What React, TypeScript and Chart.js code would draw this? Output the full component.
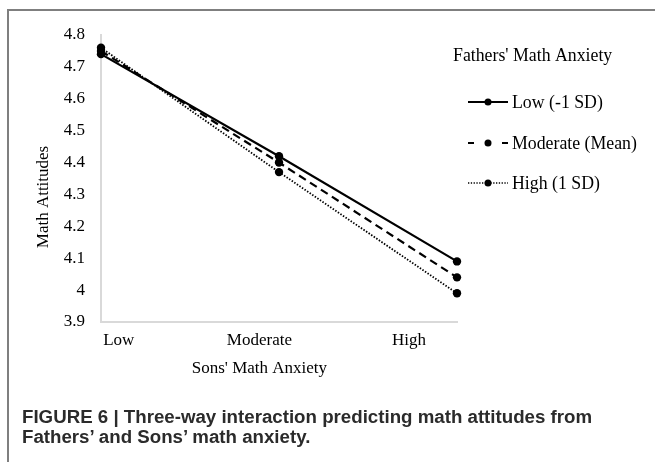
import React, { useEffect, useRef } from "react";
import { Chart, registerables } from "chart.js";

Chart.register(...registerables);

// ---- data ----
const xLabels = ["Low", "Moderate", "High"];
const seriesNames = ["Low (-1 SD)", "Moderate (Mean)", "High (1 SD)"];
const lowSD = [4.74, 4.42, 4.09];
const meanSD = [4.75, 4.40, 4.04];
const highSD = [4.76, 4.37, 3.99];
const yMin = 3.9;
const yMax = 4.8;
const yStep = 0.1;
const xTitle = "Sons' Math Anxiety";
const yTitle = "Math Attitudes";
const legendTitle = "Fathers' Math Anxiety";
const captionLine1 = "FIGURE 6 | Three-way interaction predicting math attitudes from";
const captionLine2 = "Fathers\u2019 and Sons\u2019 math anxiety.";

// layout: where tick labels sit along the x axis (in category units)
const X_LABEL_AT = [0.1, 0.89, 1.73];
const SERIF = '"Liberation Serif", "Times New Roman", serif';
const dashes = [[], [8, 5], [1.5, 1.6]];
const widths = [2.2, 2.2, 1.8];

const toPts = (arr: number[]) => arr.map((v, i) => ({ x: i, y: v }));

const overlay = {
  id: "overlay",
  afterDraw(chart: any) {
    const ctx = chart.ctx as CanvasRenderingContext2D;
    const xs = chart.scales.x;
    const area = chart.chartArea;
    ctx.save();
    ctx.fillStyle = "#000";
    ctx.font = `17px ${SERIF}`;
    ctx.textBaseline = "middle";
    ctx.textAlign = "center";
    // x title
    ctx.fillText(xTitle, xs.getPixelForValue(X_LABEL_AT[1]), area.bottom + 47);
    // y title
    ctx.save();
    ctx.translate(area.left - 57, area.top + 162);
    ctx.rotate(-Math.PI / 2);
    ctx.fillText(yTitle, 0, 0);
    ctx.restore();
    // legend
    ctx.font = `17.8px ${SERIF}`;
    ctx.textAlign = "left";
    ctx.fillText(legendTitle, 453, 56);
    const rows = [102, 143, 183];
    chart.data.datasets.forEach((ds: any, i: number) => {
      const y = rows[i];
      ctx.strokeStyle = "#000";
      ctx.lineWidth = i === 2 ? 1.5 : widths[i];
      if (i === 1) ctx.setLineDash([6, 28]);
      else if (i === 2) ctx.setLineDash([1.3, 1.5]);
      else ctx.setLineDash(dashes[i]);
      ctx.beginPath();
      ctx.moveTo(468, y);
      ctx.lineTo(508, y);
      ctx.stroke();
      ctx.setLineDash([]);
      ctx.beginPath();
      ctx.arc(488, y, 3.5, 0, Math.PI * 2);
      ctx.fillStyle = "#000";
      ctx.fill();
      ctx.fillText(ds.label, 512, y + 1);
    });
    ctx.restore();
  },
};

export default function App() {
  const ref = useRef<HTMLCanvasElement>(null);
  useEffect(() => {
    document.body.style.margin = "0";
    const series = [lowSD, meanSD, highSD];
    const chart = new Chart(ref.current as HTMLCanvasElement, {
      type: "line",
      data: {
        datasets: series.map((s, i) => ({
          label: seriesNames[i],
          data: toPts(s),
          borderColor: "#000",
          backgroundColor: "#000",
          borderWidth: widths[i],
          borderDash: dashes[i],
          pointRadius: 4.2,
          pointBackgroundColor: "#000",
          pointBorderWidth: 0,
          clip: false,
          tension: 0,
        })),
      },
      options: {
        animation: false,
        responsive: false,
        devicePixelRatio: 1,
        layout: { padding: { left: 0, top: 35, right: 198, bottom: 0 } },
        plugins: { legend: { display: false }, tooltip: { enabled: false } },
        scales: {
          x: {
            type: "linear",
            min: 0,
            max: xLabels.length - 1,
            grid: { display: false, drawTicks: false },
            border: { display: true, color: "#d9d9d9", width: 2 },
            afterBuildTicks: (scale: any) => {
              scale.ticks = X_LABEL_AT.map((v) => ({ value: v }));
            },
            afterFit: (scale: any) => {
              scale.height = 140;
            },
            ticks: {
              autoSkip: false,
              maxRotation: 0,
              padding: 8,
              color: "#000",
              font: { family: SERIF, size: 17 },
              callback: (_v: any, i: number) => xLabels[i],
            },
          },
          y: {
            min: yMin,
            max: yMax,
            grid: { display: false, drawTicks: false },
            border: { display: true, color: "#d9d9d9", width: 2 },
            afterFit: (scale: any) => {
              scale.width = 101;
            },
            ticks: {
              stepSize: yStep,
              padding: 16,
              color: "#000",
              font: { family: SERIF, size: 17 },
              callback: (v: any) => String(Math.round(Number(v) * 10) / 10),
            },
          },
        },
      },
      plugins: [overlay],
    });
    return () => chart.destroy();
  }, []);

  return (
    <div style={{ position: "absolute", left: 0, top: 0, width: 655, height: 462, background: "#fff", overflow: "hidden" }}>
      <div
        style={{
          position: "absolute",
          left: 7,
          top: 9,
          width: 660,
          height: 470,
          borderTop: "2px solid #7f7f7f",
          borderLeft: "2px solid #7f7f7f",
        }}
      />
      <canvas ref={ref} width={655} height={462} style={{ position: "absolute", left: 0, top: 0 }} />
      <div
        style={{
          position: "absolute",
          left: 22,
          top: 407,
          fontFamily: '"Liberation Sans", Arial, Helvetica, sans-serif',
          fontWeight: "bold",
          fontSize: 18.7,
          lineHeight: "19.5px",
          color: "#2b2b2b",
          whiteSpace: "nowrap",
        }}
      >
        <div>{captionLine1}</div>
        <div>{captionLine2}</div>
      </div>
    </div>
  );
}
